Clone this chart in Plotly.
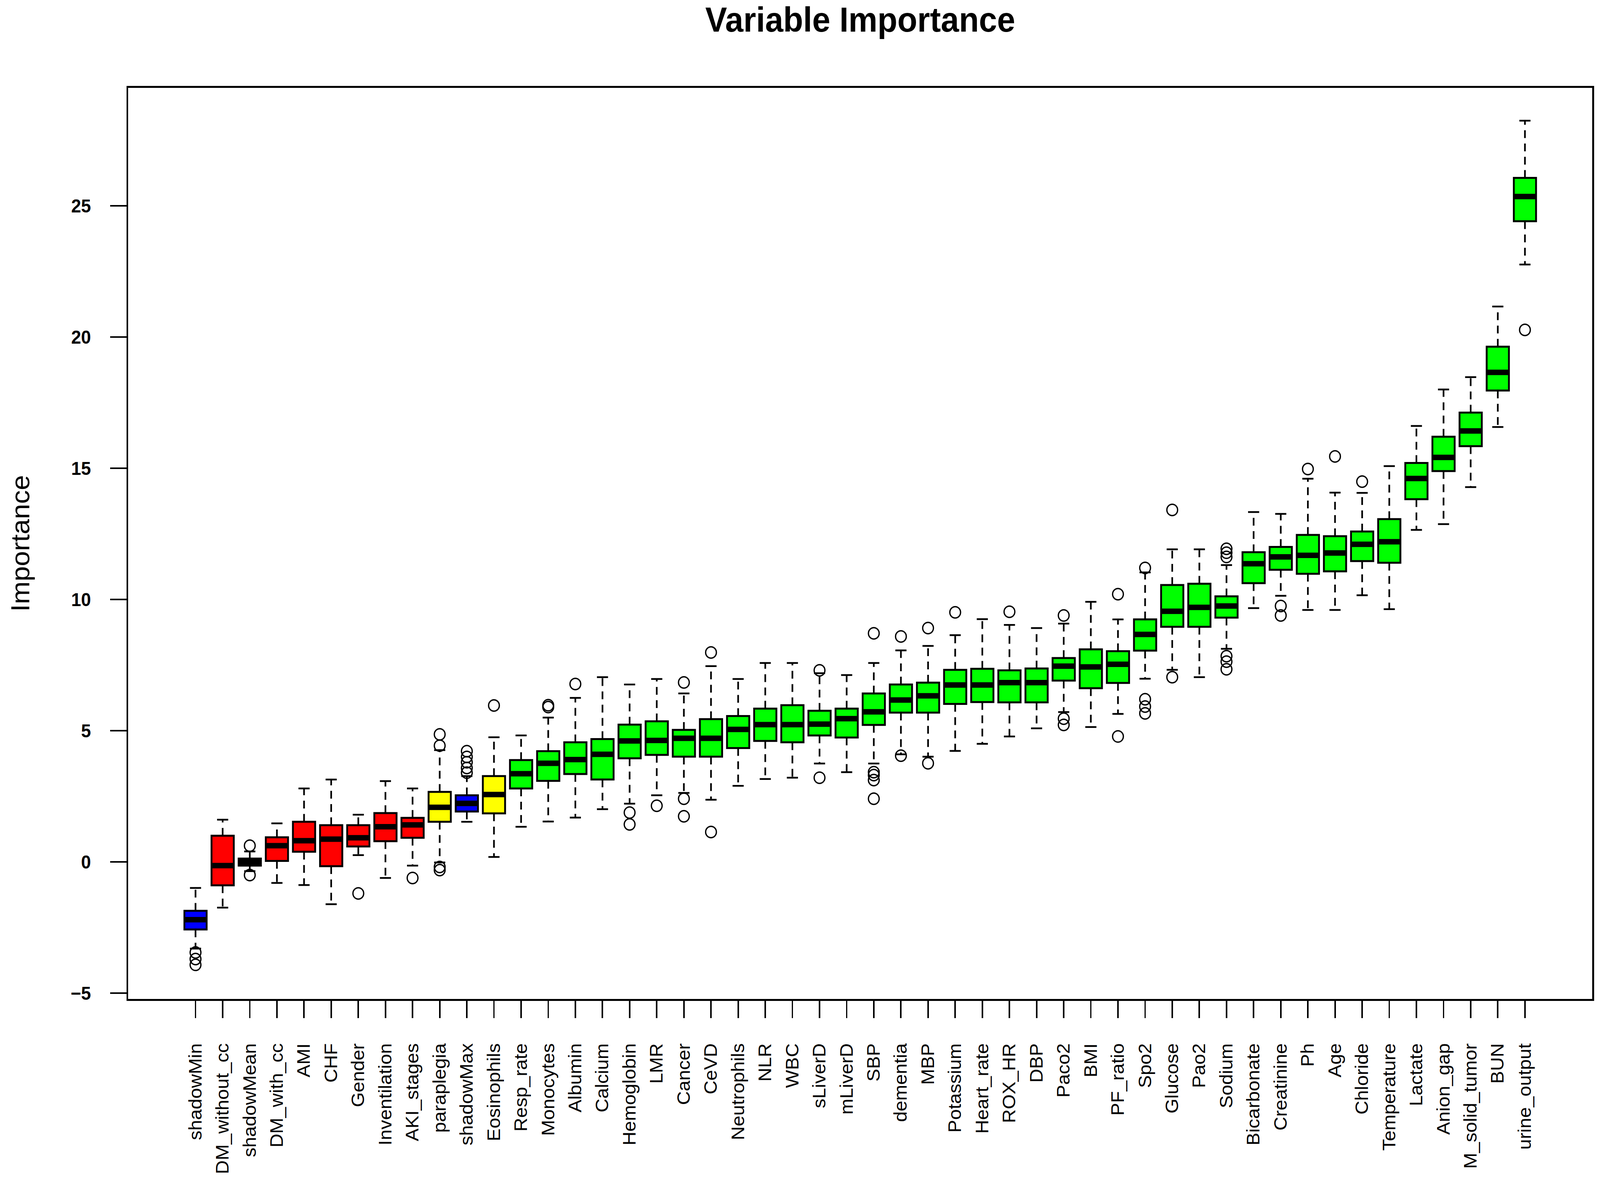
import plotly.graph_objects as go

# Boruta-style variable importance summary
variables = [
    "shadowMin", "DM_without_cc", "shadowMean", "DM_with_cc", "AMI", "CHF", "Gender",
    "Inventilation", "AKI_stages", "paraplegia", "shadowMax", "Eosinophils", "Resp_rate",
    "Monocytes", "Albumin", "Calcium", "Hemoglobin", "LMR", "Cancer", "CeVD", "Neutrophils",
    "NLR", "WBC", "sLiverD", "mLiverD", "SBP", "dementia", "MBP", "Potassium", "Heart_rate",
    "ROX_HR", "DBP", "Paco2", "BMI", "PF_ratio", "Spo2", "Glucose", "Pao2", "Sodium",
    "Bicarbonate", "Creatinine", "Ph", "Age", "Chloride", "Temperature", "Lactate",
    "Anion_gap", "M_solid_tumor", "BUN", "urine_output",
]

# shadow / rejected / tentative / confirmed
decision = [
    "shadow", "rejected", "shadow", "rejected", "rejected", "rejected", "rejected",
    "rejected", "rejected", "tentative", "shadow", "tentative", "confirmed",
    "confirmed", "confirmed", "confirmed", "confirmed", "confirmed", "confirmed", "confirmed", "confirmed",
    "confirmed", "confirmed", "confirmed", "confirmed", "confirmed", "confirmed", "confirmed", "confirmed", "confirmed",
    "confirmed", "confirmed", "confirmed", "confirmed", "confirmed", "confirmed", "confirmed", "confirmed", "confirmed",
    "confirmed", "confirmed", "confirmed", "confirmed", "confirmed", "confirmed", "confirmed",
    "confirmed", "confirmed", "confirmed", "confirmed",
]

lower_whisker = [
    -3.30, -1.74, -0.35, -0.80, -0.88, -1.61, 0.26, -0.61, -0.14, -0.02,
    1.53, 0.19, 1.34, 1.54, 1.69, 2.01, 2.22, 2.54, 2.63, 2.37,
    2.90, 3.16, 3.21, 3.75, 3.42, 3.75, 4.10, 4.01, 4.23, 4.50,
    4.78, 5.09, 5.71, 5.14, 5.64, 6.98, 7.32, 7.04, 8.12, 9.67,
    10.14, 9.60, 9.60, 10.16, 9.63, 12.65, 12.87, 14.28, 16.57, 22.76,
]
q1 = [
    -2.57, -0.89, -0.14, 0.04, 0.39, -0.16, 0.59, 0.79, 0.92, 1.53,
    1.92, 1.85, 2.80, 3.09, 3.35, 3.14, 3.95, 4.08, 4.01, 4.01,
    4.34, 4.61, 4.56, 4.82, 4.74, 5.22, 5.69, 5.69, 6.02, 6.09,
    6.08, 6.08, 6.91, 6.62, 6.82, 8.05, 8.96, 8.96, 9.31, 10.62,
    11.13, 10.98, 11.07, 11.46, 11.40, 13.82, 14.89, 15.84, 17.96, 24.41,
]
median = [
    -2.20, -0.14, 0.00, 0.62, 0.81, 0.87, 0.92, 1.34, 1.41, 2.08,
    2.23, 2.57, 3.36, 3.76, 3.90, 4.10, 4.61, 4.63, 4.71, 4.71,
    5.05, 5.23, 5.23, 5.25, 5.46, 5.72, 6.17, 6.33, 6.74, 6.74,
    6.83, 6.83, 7.46, 7.43, 7.53, 8.67, 9.55, 9.70, 9.75, 11.36,
    11.62, 11.68, 11.77, 12.10, 12.20, 14.61, 15.41, 16.42, 18.65, 25.35,
]
q3 = [
    -1.86, 1.00, 0.13, 0.94, 1.53, 1.40, 1.40, 1.86, 1.68, 2.67,
    2.54, 3.27, 3.88, 4.22, 4.56, 4.68, 5.23, 5.36, 5.03, 5.44,
    5.56, 5.84, 5.97, 5.76, 5.84, 6.42, 6.76, 6.83, 7.32, 7.36,
    7.30, 7.37, 7.77, 8.10, 8.03, 9.24, 10.55, 10.60, 10.12, 11.80,
    12.00, 12.46, 12.41, 12.59, 13.06, 15.20, 16.20, 17.12, 19.63, 26.06,
]
upper_whisker = [
    -0.99, 1.61, 0.40, 1.47, 2.80, 3.14, 1.80, 3.08, 2.80, 4.26,
    3.27, 4.75, 4.82, 5.50, 6.25, 7.04, 6.76, 6.97, 6.42, 7.46,
    6.97, 7.58, 7.58, 7.19, 7.12, 7.58, 8.06, 8.23, 8.64, 9.25,
    9.03, 8.91, 9.08, 9.91, 9.24, 11.03, 11.91, 11.91, 11.31, 13.33,
    13.26, 14.60, 14.07, 14.06, 15.08, 16.61, 18.00, 18.47, 21.16, 28.24,
]

# outliers: variable name and importance value
outlier_var = [
    "shadowMin", "shadowMin", "shadowMin",
    "shadowMean", "shadowMean",
    "Gender", "AKI_stages",
    "paraplegia", "paraplegia", "paraplegia", "paraplegia",
    "shadowMax", "shadowMax", "shadowMax", "shadowMax", "shadowMax",
    "Eosinophils", "Monocytes", "Monocytes", "Albumin",
    "Hemoglobin", "Hemoglobin", "LMR",
    "Cancer", "Cancer", "Cancer", "CeVD", "CeVD",
    "sLiverD", "sLiverD",
    "SBP", "SBP", "SBP", "SBP", "SBP",
    "dementia", "dementia", "MBP", "MBP", "Potassium", "ROX_HR",
    "Paco2", "Paco2", "Paco2", "PF_ratio", "PF_ratio",
    "Spo2", "Spo2", "Spo2", "Spo2", "Glucose", "Glucose",
    "Sodium", "Sodium", "Sodium", "Sodium", "Sodium", "Sodium",
    "Creatinine", "Creatinine", "Ph", "Age", "Chloride", "urine_output",
]
outlier_val = [
    -3.45, -3.70, -3.92,
    0.62, -0.50,
    -1.20, -0.61,
    4.86, 4.43, -0.19, -0.31,
    3.40, 3.58, 3.80, 4.00, 4.22,
    5.96, 5.90, 5.97, 6.78,
    1.88, 1.43, 2.14,
    6.84, 2.41, 1.74, 7.98, 1.14,
    7.30, 3.21,
    8.71, 3.42, 3.31, 3.12, 2.41,
    8.59, 4.05, 8.91, 3.76, 9.51, 9.53,
    9.39, 5.46, 5.22, 10.20, 4.78,
    11.20, 6.20, 5.92, 5.66, 13.41, 7.04,
    11.62, 11.78, 11.93, 7.84, 7.63, 7.34,
    9.75, 9.39, 14.97, 15.45, 14.49, 20.27,
]

y_ticks = [-5, 0, 5, 10, 15, 20, 25]

FILL = {"shadow": "#0000FF", "rejected": "#FF0000", "tentative": "#FFFF00", "confirmed": "#00FF00"}
FONT = "Liberation Sans, Arial, sans-serif"
FIG_W, FIG_H = 4317, 3019
BOX_W = 0.82          # box width in category units
CAT_PX = 73.2         # pixels per category at this figure size

# Stretch the fixed-size figure so it fills whatever viewport the page gets
FIT_JS = """
var gd = document.getElementById('{plot_id}');
document.documentElement.style.margin = '0';
document.body.style.margin = '0';
document.documentElement.style.overflow = 'hidden';
document.body.style.overflow = 'hidden';
var sx = window.innerWidth / %d, sy = window.innerHeight / %d;
gd.style.transformOrigin = '0 0';
gd.style.transform = 'scale(' + sx + ',' + sy + ')';
""" % (FIG_W, FIG_H)


def whisker_paths(names, q1s, q3s, lows, highs):
    """Build broken x/y lists so every whisker is one dashed segment."""
    xs, ys = [], []
    for n, a, b, lo, hi in zip(names, q1s, q3s, lows, highs):
        xs += [n, n, None, n, n, None]
        ys += [b, hi, None, a, lo, None]
    return xs, ys


fig = go.Figure()

# Dashed whiskers
wx, wy = whisker_paths(variables, q1, q3, lower_whisker, upper_whisker)
fig.add_trace(go.Scatter(
    x=wx, y=wy, mode="lines",
    line=dict(color="black", width=4.5, dash="20px,14px"),
    hoverinfo="skip",
))

# Whisker staples
fig.add_trace(go.Scatter(
    x=variables + variables, y=upper_whisker + lower_whisker, mode="markers",
    marker=dict(symbol="line-ew", size=BOX_W * CAT_PX * 0.5 / 1.4,
                line=dict(color="black", width=4.5)),
    hoverinfo="skip",
))

# Boxes, one trace per decision colour
for group, colour in FILL.items():
    idx = [i for i, d in enumerate(decision) if d == group]
    fig.add_trace(go.Box(
        x=[variables[i] for i in idx],
        q1=[q1[i] for i in idx],
        median=[median[i] for i in idx],
        q3=[q3[i] for i in idx],
        lowerfence=[q1[i] for i in idx],
        upperfence=[q3[i] for i in idx],
        fillcolor=colour,
        line=dict(color="black", width=5),
        width=BOX_W,
        whiskerwidth=0,
        boxpoints=False,
        name=group,
    ))

# Thick median bars
fig.add_trace(go.Scatter(
    x=variables, y=median, mode="markers",
    marker=dict(symbol="line-ew", size=BOX_W * CAT_PX / 1.4,
                line=dict(color="black", width=14)),
    hoverinfo="skip",
))

# Outliers
fig.add_trace(go.Scatter(
    x=outlier_var, y=outlier_val, mode="markers",
    marker=dict(symbol="circle-open", size=29, color="black",
                line=dict(color="black", width=3.5)),
))

fig.update_layout(
    width=FIG_W, height=FIG_H,
    margin=dict(l=346, r=21, t=225, b=444),
    paper_bgcolor="white", plot_bgcolor="white",
    showlegend=False, boxmode="overlay",
    title=dict(text="<b>Variable Importance</b>", x=0.5, xref="paper", xanchor="center",
               y=1 - 50 / FIG_H, yanchor="middle",
               font=dict(family=FONT, size=88, color="black")),
    font=dict(family=FONT, color="black"),
)

fig.update_xaxes(
    type="category", categoryorder="array", categoryarray=variables,
    range=[-2.48, 51.48],
    showline=True, mirror=True, linecolor="black", linewidth=5,
    ticks="outside", ticklen=44, tickwidth=4, tickcolor="black",
    tickangle=-90, tickfont=dict(family=FONT, size=49, color="black"),
    ticklabelstandoff=45,
    showgrid=False, zeroline=False,
)

fig.update_yaxes(
    range=[-5.22, 29.49],
    tickvals=y_ticks,
    showline=True, mirror=True, linecolor="black", linewidth=5,
    ticks="outside", ticklen=44, tickwidth=4, tickcolor="black",
    tickfont=dict(family=FONT, size=48, color="black", weight="bold"),
    ticklabelstandoff=42,
    title=dict(text="Importance", font=dict(family=FONT, size=70, color="black"), standoff=90),
    showgrid=False, zeroline=False,
)

fig.write_html("out.html", post_script=FIT_JS, config={"displayModeBar": False})
